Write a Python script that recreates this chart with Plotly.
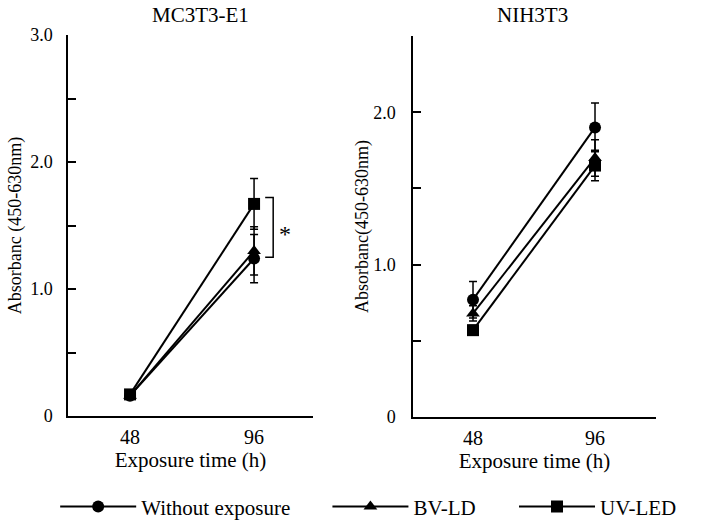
import plotly.graph_objects as go

# ---- data ----
times = [48, 96]
time_labels = ["48", "96"]
series_names = ["Without exposure", "BV-LD", "UV-LED"]

mc_without = [0.16, 1.24]
mc_without_err = [0.02, 0.19]
mc_bvld = [0.16, 1.30]
mc_bvld_err = [0.02, 0.19]
mc_uvled = [0.17, 1.67]
mc_uvled_err = [0.02, 0.20]

nih_without = [0.77, 1.90]
nih_without_err = [0.12, 0.16]
nih_bvld = [0.68, 1.70]
nih_bvld_err = [0.05, 0.12]
nih_uvled = [0.57, 1.65]
nih_uvled_err = [0.03, 0.10]

panel_titles = ["MC3T3-E1", "NIH3T3"]
y_title_left = "Absorbanc (450-630nm)"
y_title_right = "Absorbanc(450-630nm)"
x_title = "Exposure time (h)"
left_ticks = [0, 0.5, 1.0, 1.5, 2.0, 2.5, 3.0]
left_ticktext = ["0", "", "1.0", "", "2.0", "", "3.0"]
right_ticks = [0, 0.5, 1.0, 1.5, 2.0, 2.5]
right_ticktext = ["0", "", "1.0", "", "2.0", ""]

FONT = "Liberation Serif, Times New Roman, serif"
symbols = ["circle", "triangle-up", "square"]
legend_ids = ["legend", "legend2", "legend3"]

fig = go.Figure()

panels = [
    ("x", "y", [(mc_without, mc_without_err), (mc_bvld, mc_bvld_err), (mc_uvled, mc_uvled_err)]),
    ("x2", "y2", [(nih_without, nih_without_err), (nih_bvld, nih_bvld_err), (nih_uvled, nih_uvled_err)]),
]
for p, (xa, ya, series) in enumerate(panels):
    for i, (vals, errs) in enumerate(series):
        fig.add_trace(go.Scatter(
            x=times, y=vals, xaxis=xa, yaxis=ya,
            mode="lines+markers", name=series_names[i],
            line=dict(color="black", width=2),
            marker=dict(symbol=symbols[i], size=12, color="black"),
            error_y=dict(type="data", array=errs, visible=True, color="black",
                         thickness=1.5, width=4),
            showlegend=(p == 0), legend=legend_ids[i],
        ))

axis_common = dict(showline=True, linecolor="black", linewidth=1.5, showgrid=False,
                   zeroline=False, automargin=False,
                   tickfont=dict(family=FONT, size=18, color="black"))

fig.update_layout(
    width=726, height=528,
    margin=dict(l=0, r=0, t=0, b=0, autoexpand=False),
    plot_bgcolor="white", paper_bgcolor="white",
    font=dict(family=FONT, color="black"),
    xaxis=dict(axis_common, domain=[0.0937, 0.4311], range=[24, 118.8],
               tickvals=times, ticktext=time_labels, ticks="",
               tickfont=dict(family=FONT, size=20, color="black"), ticklabelstandoff=2,
               title=dict(text=x_title, font=dict(family=FONT, size=21), standoff=2)),
    yaxis=dict(axis_common, domain=[0.2121, 0.9337], range=[0, 3.0],
               tickvals=left_ticks, ticktext=left_ticktext, ticks="inside", ticklen=8,
               tickwidth=1.5, tickcolor="black", ticklabelstandoff=10,
               title=dict(text=y_title_left, font=dict(family=FONT, size=18), standoff=4)),
    xaxis2=dict(axis_common, domain=[0.5689, 0.9036], range=[24.4, 120],
                anchor="y2",
                tickvals=times, ticktext=time_labels, ticks="",
                tickfont=dict(family=FONT, size=20, color="black"), ticklabelstandoff=2,
                title=dict(text=x_title, font=dict(family=FONT, size=21), standoff=2)),
    yaxis2=dict(axis_common, domain=[0.2102, 0.9318], range=[0, 2.5], anchor="x2",
                tickvals=right_ticks, ticktext=right_ticktext, ticks="inside", ticklen=8,
                tickwidth=1.5, tickcolor="black", ticklabelstandoff=12,
                title=dict(text=y_title_right, font=dict(family=FONT, size=18), standoff=0)),
)

leg_common = dict(orientation="h", yanchor="middle", y=0.04, xanchor="left",
                  font=dict(family=FONT, size=21, color="black"), itemwidth=76,
                  bgcolor="rgba(0,0,0,0)")
fig.update_layout(
    legend=dict(leg_common, x=0.076),
    legend2=dict(leg_common, x=0.451),
    legend3=dict(leg_common, x=0.708),
)

# panel titles
for t, xc in zip(panel_titles, [0.2755, 0.7328]):
    fig.add_annotation(text=t, xref="paper", yref="paper", x=xc, y=0.972,
                       showarrow=False, font=dict(family=FONT, size=21, color="black"),
                       xanchor="center", yanchor="middle")

# significance bracket between UV-LED and Without exposure at 96 h (MC3T3-E1)
b_top = mc_uvled[1] + 0.05
b_bot = mc_without[1] + 0.01
fig.add_shape(type="path", xref="x", yref="y",
              path=f"M 100.3 {b_top} L 103.4 {b_top} L 103.4 {b_bot} L 100.3 {b_bot}",
              line=dict(color="black", width=1.5))
fig.add_annotation(text="*", xref="x", yref="y", x=108, y=(b_top + b_bot) / 2 - 0.05,
                   showarrow=False, font=dict(family=FONT, size=24, color="black"))

fig.write_html("out.html", config={"displayModeBar": False},
               post_script="document.body.style.margin='0';")
